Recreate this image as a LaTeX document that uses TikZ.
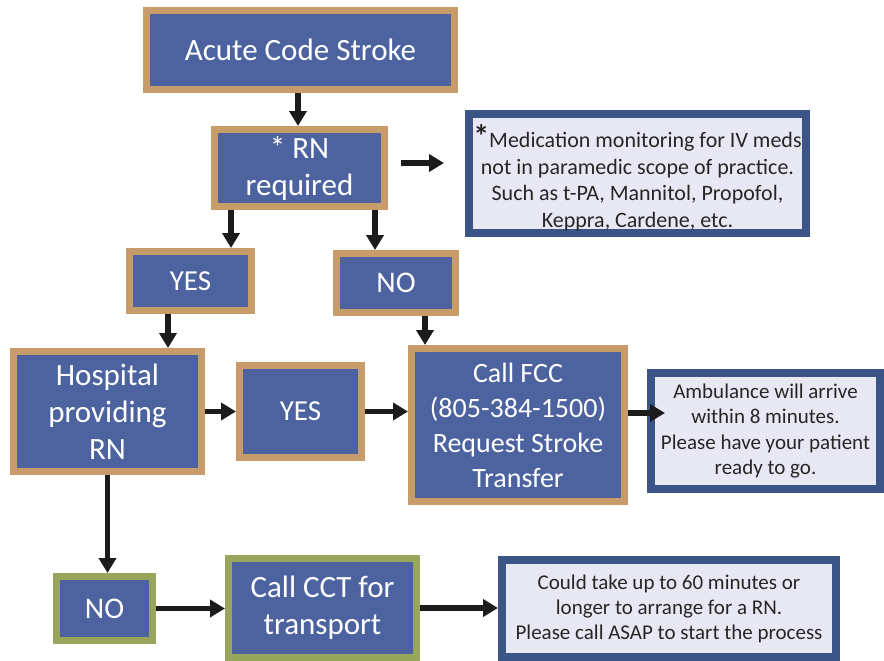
\documentclass[tikz,border=0pt]{standalone}
\usepackage{fontspec}
\setmainfont{Carlito}
\usetikzlibrary{arrows.meta}
\definecolor{boxblue}{RGB}{76,99,160}
\definecolor{tan}{RGB}{200,155,107}
\definecolor{olive}{RGB}{152,166,92}
\definecolor{navy}{RGB}{60,85,135}
\definecolor{notefill}{RGB}{232,232,244}
\definecolor{arrowblack}{RGB}{28,28,28}
\tikzset{
  bluebox/.style={rectangle, draw=tan, line width=7pt, fill=boxblue, text=white,
    inner sep=0pt, align=center, font=\fontsize{31}{37}\selectfont},
  greenbox/.style={bluebox, draw=olive},
  notebox/.style={rectangle, draw=navy, line width=8pt, fill=notefill, text=black!85,
    inner sep=0pt, align=center, font=\fontsize{22}{26.5}\selectfont},
  arr/.style={draw=arrowblack, line width=5.5pt, -{Triangle[length=15pt,width=17pt]}},
}
\begin{document}
\begin{tikzpicture}[x=1pt,y=-1pt]
\useasboundingbox[fill=white] (0,0) rectangle (884,661);
% nodes: minimum size = outer size - line width
\node[bluebox, minimum width=308pt, minimum height=79pt] (A) at (300.5,50) {Acute Code Stroke};
\node[bluebox, minimum width=170pt, minimum height=77pt] (B) at (299.5,168) {* RN\\required};
\node[notebox, minimum width=337pt, minimum height=119pt] (N1) at (637.5,173.5)
  {\rule{0pt}{32pt}{\fontsize{32}{32}\selectfont\bfseries*}Medication monitoring for IV meds\\not in paramedic scope of practice.\\Such as t-PA, Mannitol, Propofol,\\Keppra, Cardene, etc.};
\node[bluebox, minimum width=122pt, minimum height=59pt, font=\fontsize{29}{35}\selectfont] (Y1) at (190.5,281) {YES};
\node[bluebox, minimum width=119pt, minimum height=59pt, font=\fontsize{30}{35}\selectfont] (N2) at (396,283) {NO};
\node[bluebox, minimum width=188pt, minimum height=120pt] (H) at (107.5,411.5) {Hospital\\providing\\RN};
\node[bluebox, minimum width=122pt, minimum height=92pt, font=\fontsize{29}{35}\selectfont] (Y2) at (300.5,411.5) {YES};
\node[bluebox, minimum width=213pt, minimum height=153pt, font=\fontsize{28}{35}\selectfont] (F) at (518,425) {Call FCC\\(805-384-1500)\\Request Stroke\\Transfer};
\node[notebox, minimum width=229pt, minimum height=116pt, font=\fontsize{21}{25.5}\selectfont] (Amb) at (765.5,431)
  {Ambulance will arrive\\within 8 minutes.\\Please have your patient\\ready to go.};
\node[greenbox, minimum width=96pt, minimum height=64pt, font=\fontsize{30}{35}\selectfont] (N3) at (104.5,608.5) {NO};
\node[greenbox, minimum width=188pt, minimum height=99pt] (CCT) at (322.5,608) {Call CCT for\\transport};
\node[notebox, minimum width=334pt, minimum height=97pt, font=\fontsize{21}{25}\selectfont] (N4) at (669,608.5)
  {Could take up to 60 minutes or\\longer to arrange for a RN.\\Please call ASAP to start the process};
% connectors
\draw[arr] ([xshift=-2.5pt]A.south) -- ([xshift=-1.5pt]B.north);
\draw[arr] ([xshift=13pt,yshift=5pt]B.east) -- +(43,0);
\draw[arr] ([xshift=-68.5pt]B.south) -- ([xshift=-68.5pt]B.south |- Y1.north);
\draw[arr] ([xshift=75.5pt]B.south) -- ([xshift=75.5pt]B.south |- N2.north);
\draw[arr] ([xshift=-22.5pt]Y1.south) -- ([xshift=-22.5pt]Y1.south |- H.north);
\draw[arr] ([xshift=29pt]N2.south) -- ([xshift=29pt]N2.south |- F.north);
\draw[arr] (H.east) -- (Y2.west);
\draw[arr] (Y2.east) -- (Y2.east -| F.west);
\draw[arr] ([yshift=12pt]F.east) -- +(37,0);
\draw[arr] (H.south) -- (H.south |- N3.north);
\draw[arr] (N3.east) -- (N3.east -| CCT.west);
\draw[arr] (CCT.east) -- (CCT.east -| N4.west);
\end{tikzpicture}
\end{document}
